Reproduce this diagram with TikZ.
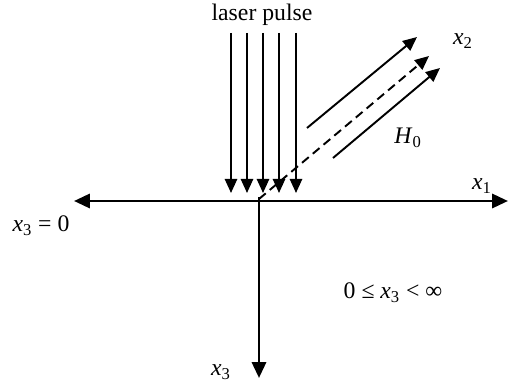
\documentclass[tikz,border=0pt]{standalone}
\usepackage{fontspec}
\setmainfont{Liberation Serif}
\usetikzlibrary{arrows.meta}
\newcommand{\ivar}[2]{\textit{#1}\textsubscript{#2}}
\tikzset{
  axis/.style={line width=1.6pt, -{Triangle[length=9pt, width=8pt]}},
  beam/.style={line width=1.1pt, -{Triangle[length=8pt, width=7pt]}},
  lbl/.style={font=\fontsize{13.5}{16}\selectfont, inner sep=0pt}
}
\begin{document}
\begin{tikzpicture}[x=0.02cm, y=-0.02cm]
\useasboundingbox (0,0) rectangle (510,381);
% axes
\coordinate (O) at (259,201);
\coordinate (L) at (74,201);
\coordinate (R) at (508,201);
\coordinate (T) at (259,197);
\coordinate (B) at (259,378);
\draw[axis] (O) -- (L);
\draw[axis] (O) -- (R);
\draw[axis] (T) -- (B);
% laser pulse
\node[lbl] (pulse) at (262,15) {laser pulse};
\foreach \i/\x in {1/231,2/247,3/263,4/279,5/296} {
  \coordinate (p\i) at (\x,33);
  \coordinate (q\i) at (\x,193);
  \draw[beam] (p\i) -- (q\i);
}
% reflected
\coordinate (d0) at (259,199);
\coordinate (d1) at (429,56);
\draw[beam, dashed, dash pattern=on 5pt off 3pt] (d0) -- (d1);
\coordinate (u0) at (307,128);
\coordinate (u1) at (417,37);
\draw[beam] (u0) -- (u1);
\coordinate (w0) at (333,158);
\coordinate (w1) at (440,68);
\draw[beam] (w0) -- (w1);
% labels
\node[lbl] (x2) at (463,41) {\ivar{x}{2}};
\node[lbl] (H0) at (408,138) {\ivar{H}{0}};
\node[lbl] (x1) at (482,186) {\ivar{x}{1}};
\node[lbl] (x30) at (41,226) {\ivar{x}{3} = 0};
\node[lbl] (range) at (393,293) {0 ≤ \ivar{x}{3} < ∞};
\node[lbl] (x3) at (221,372) {\ivar{x}{3}};
\end{tikzpicture}
\end{document}
